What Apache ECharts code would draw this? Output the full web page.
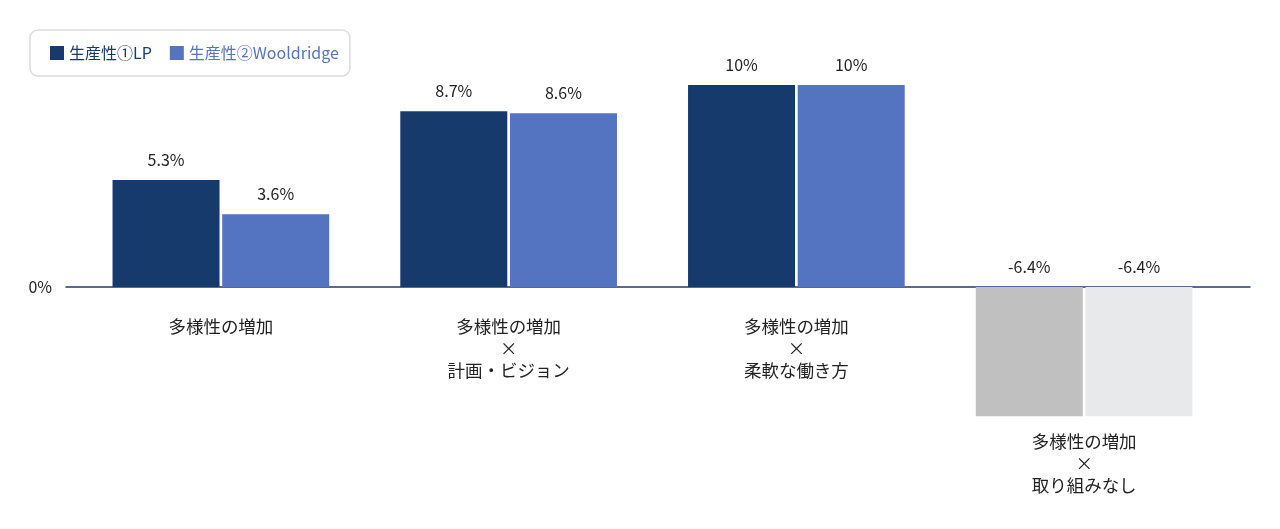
<!DOCTYPE html>
<html>
<head>
<meta charset="utf-8">
<script src="https://cdn.jsdelivr.net/npm/echarts@6/dist/echarts.min.js"></script>
<style>
  html, body { margin: 0; padding: 0; background: #fff; }
  #chart { width: 1280px; height: 529px; }
</style>
</head>
<body>
<div id="chart"></div>
<script>
// data
var categories = ['多様性の増加', '多様性の増加\n×\n計画・ビジョン', '多様性の増加\n×\n柔軟な働き方', '多様性の増加\n×\n取り組みなし'];
var seriesNames = ['生産性①LP', '生産性②Wooldridge'];
var lpValues = [5.3, 8.7, 10, -6.4];
var wooldridgeValues = [3.6, 8.6, 10, -6.4];

var FONT = '"Noto Sans CJK JP", "Noto Sans", sans-serif';
var seriesColors = ['#173a6d', '#5473c0'];
var negColors = ['#c0c0c0', '#e8e9eb'];

var GRID_TOP = 85;
var GRID_BOTTOM = 40;
var CHART_H = 529;

function toItems(values, idx) {
  return values.map(function (v) {
    return v < 0 ? { value: v, itemStyle: { color: negColors[idx] } } : v;
  });
}

function labelFmt(p) {
  return p.value + '%';
}

var chart = echarts.init(document.getElementById('chart'));

// y range is symmetric, so zero sits in the middle of the grid
var gridH = CHART_H - GRID_TOP - GRID_BOTTOM;

var option = {
  animation: false,
  textStyle: { fontFamily: FONT },
  legend: {
    left: 30,
    top: 30,
    padding: [15, 11, 15, 20],
    itemWidth: 14,
    itemHeight: 14,
    itemGap: 18,
    icon: 'rect',
    borderColor: '#dcdcdc',
    borderWidth: 1.5,
    borderRadius: 8,
    textStyle: { fontSize: 16, fontFamily: FONT },
    data: seriesNames.map(function (n, i) {
      return { name: n, textStyle: { color: seriesColors[i] } };
    })
  },
  grid: [
    { left: 77, right: 52, top: GRID_TOP, bottom: GRID_BOTTOM, outerBoundsMode: 'none', containLabel: false },
    { left: 66, right: 30, top: GRID_TOP, bottom: GRID_BOTTOM, outerBoundsMode: 'none', containLabel: false }
  ],
  xAxis: [
    {
      type: 'category',
      gridIndex: 0,
      data: categories,
      offset: -gridH / 2,
      axisLine: { show: false, onZero: false },
      axisTick: { show: false },
      axisLabel: {
        margin: 28,
        interval: 0,
        fontSize: 17.5,
        lineHeight: 22,
        color: '#222',
        fontFamily: FONT,
        formatter: function (value, index) {
          if (lpValues[index] < 0) {
            return '{sp| }\n' + value;
          }
          return value;
        },
        rich: {
          sp: { lineHeight: 115 }
        }
      }
    },
    {
      type: 'value',
      gridIndex: 1,
      min: 0,
      max: 1,
      axisLine: { show: true, onZero: true, lineStyle: { color: '#1f3b6b', width: 1.5 } },
      axisTick: { show: false },
      axisLabel: { show: false },
      splitLine: { show: false }
    }
  ],
  yAxis: [
    {
      type: 'value',
      gridIndex: 0,
      min: -10,
      max: 10,
      interval: 10,
      axisLine: { show: false },
      axisTick: { show: false },
      splitLine: { show: false },
      axisLabel: {
        margin: 25,
        fontSize: 16,
        color: '#222',
        fontFamily: FONT,
        formatter: function (v) { return v === 0 ? '0%' : ''; }
      }
    },
    {
      type: 'value',
      gridIndex: 1,
      min: -10,
      max: 10,
      show: false
    }
  ],
  series: [
    {
      name: seriesNames[0],
      type: 'bar',
      xAxisIndex: 0,
      yAxisIndex: 0,
      barWidth: 107,
      barGap: '2.5%',
      itemStyle: { color: seriesColors[0] },
      label: {
        show: true,
        position: 'top',
        distance: 12,
        fontSize: 16,
        color: '#222',
        fontFamily: FONT,
        formatter: labelFmt
      },
      data: toItems(lpValues, 0)
    },
    {
      name: seriesNames[1],
      type: 'bar',
      xAxisIndex: 0,
      yAxisIndex: 0,
      barWidth: 107,
      barGap: '2.5%',
      itemStyle: { color: seriesColors[1] },
      label: {
        show: true,
        position: 'top',
        distance: 12,
        fontSize: 16,
        color: '#222',
        fontFamily: FONT,
        formatter: labelFmt
      },
      data: toItems(wooldridgeValues, 1)
    }
  ]
};

chart.setOption(option);
</script>
</body>
</html>
